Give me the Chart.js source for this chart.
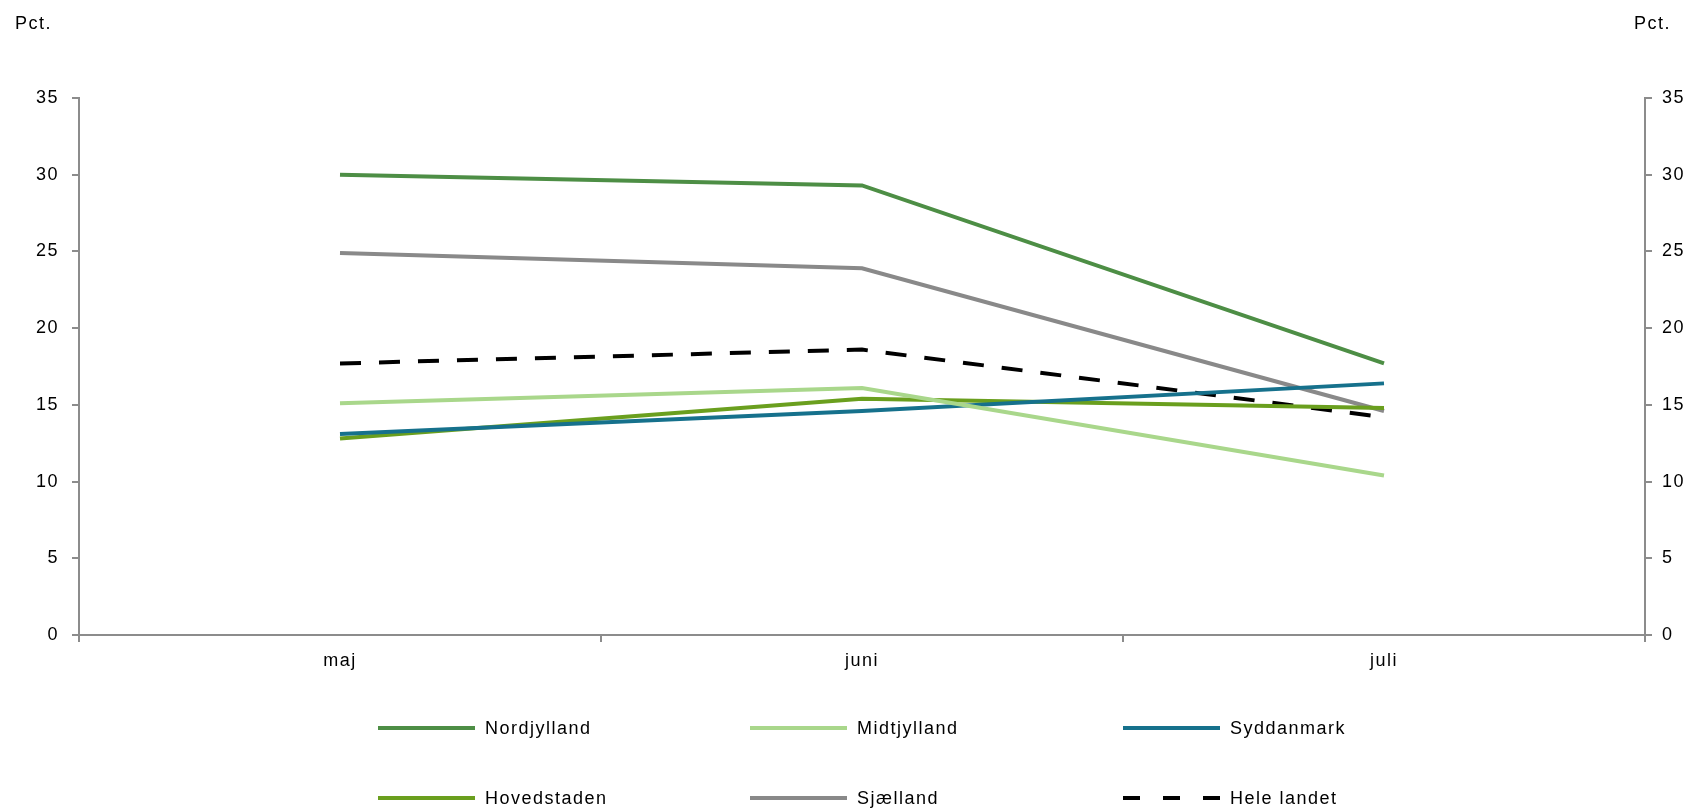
<!DOCTYPE html>
<html>
<head>
<meta charset="utf-8">
<script src="https://cdn.jsdelivr.net/npm/chart.js@4/dist/chart.umd.min.js"></script>
<style>
  html, body { margin: 0; padding: 0; background: #fff; }
  #wrap { position: relative; width: 1688px; height: 810px; font-family: "Liberation Sans", Arial, sans-serif; }
  .unit { position: absolute; top: 13px; font-size: 18px; letter-spacing: 1.5px; color: #000; }
  .item { position: absolute; height: 20px; display: flex; align-items: center; font-size: 18px; letter-spacing: 1.5px; color: #000; }
  .swatch { width: 97px; height: 4px; margin-right: 10px; }
</style>
</head>
<body>
<div id="wrap">
  <canvas id="chart" width="1688" height="810"></canvas>
  <div class="unit" style="left:15px">Pct.</div>
  <div class="unit" style="left:1634px">Pct.</div>
</div>
<script>
const months = ["maj", "juni", "juli"];
const regions = ["Nordjylland", "Midtjylland", "Syddanmark", "Hovedstaden", "Sjælland", "Hele landet"];
const nordjylland = [30.0, 29.3, 17.7];
const midtjylland = [15.1, 16.1, 10.4];
const syddanmark = [13.1, 14.6, 16.4];
const hovedstaden = [12.8, 15.4, 14.8];
const sjaelland = [24.9, 23.9, 14.6];
const heleLandet = [17.7, 18.6, 14.2];
const yTicks = [0, 5, 10, 15, 20, 25, 30, 35];

const colors = ["#4d8e45", "#a9d78b", "#16718c", "#6a9f1e", "#898989", "#000000"];
const series = [nordjylland, midtjylland, syddanmark, hovedstaden, sjaelland, heleLandet];

const datasets = series.map((data, i) => ({
  label: regions[i],
  data: data,
  borderColor: colors[i],
  backgroundColor: colors[i],
  borderWidth: 4,
  borderDash: i === 5 ? [21, 18] : [],
  pointRadius: 0,
  tension: 0,
  fill: false
}));

const axisColor = "#8c8c8c";
const tickFont = { family: "'Liberation Sans', Arial, sans-serif", size: 18 };

function yAxis(position, width, pad) {
  return {
    type: "linear",
    position: position,
    min: 0,
    max: 35,
    afterBuildTicks: (scale) => { scale.ticks = yTicks.map(v => ({ value: v })); },
    afterFit: (scale) => { scale.width = width; },
    border: { color: axisColor, width: 2 },
    grid: { drawOnChartArea: false, color: axisColor, lineWidth: 2, tickLength: 7 },
    ticks: { color: "#000", font: tickFont, padding: pad }
  };
}

// letter spacing on the canvas text to match the wide glyphs in the source
const spacing = {
  id: "spacing",
  beforeDraw(chart) { chart.ctx.letterSpacing = "1.5px"; }
};

new Chart(document.getElementById("chart"), {
  type: "line",
  data: { labels: months, datasets: datasets },
  options: {
    responsive: false,
    animation: false,
    layout: { padding: { top: 98, left: 0, right: 0, bottom: 130 } },
    plugins: { legend: { display: false }, tooltip: { enabled: false } },
    scales: {
      x: {
        type: "category",
        offset: true,
        afterFit: (scale) => { scale.height = 45; },
        border: { color: axisColor, width: 2 },
        grid: { offset: true, drawOnChartArea: false, color: axisColor, lineWidth: 2, tickLength: 7 },
        ticks: { color: "#000", font: tickFont, padding: 8 }
      },
      y: yAxis("left", 79, 13),
      y2: yAxis("right", 43, 10)
    }
  },
  plugins: [spacing]
});

// legend, three columns by two rows
const wrap = document.getElementById("wrap");
const colX = [378, 750, 1123];
const rowY = [718, 788];
regions.forEach((name, i) => {
  const item = document.createElement("div");
  item.className = "item";
  item.style.left = colX[i % 3] + "px";
  item.style.top = rowY[Math.floor(i / 3)] + "px";
  const sw = document.createElement("div");
  sw.className = "swatch";
  if (i === 5) {
    sw.style.background = "repeating-linear-gradient(to right, #000 0 17px, transparent 17px 40px)";
  } else {
    sw.style.background = colors[i];
  }
  item.appendChild(sw);
  item.appendChild(document.createTextNode(name));
  wrap.appendChild(item);
});
</script>
</body>
</html>
